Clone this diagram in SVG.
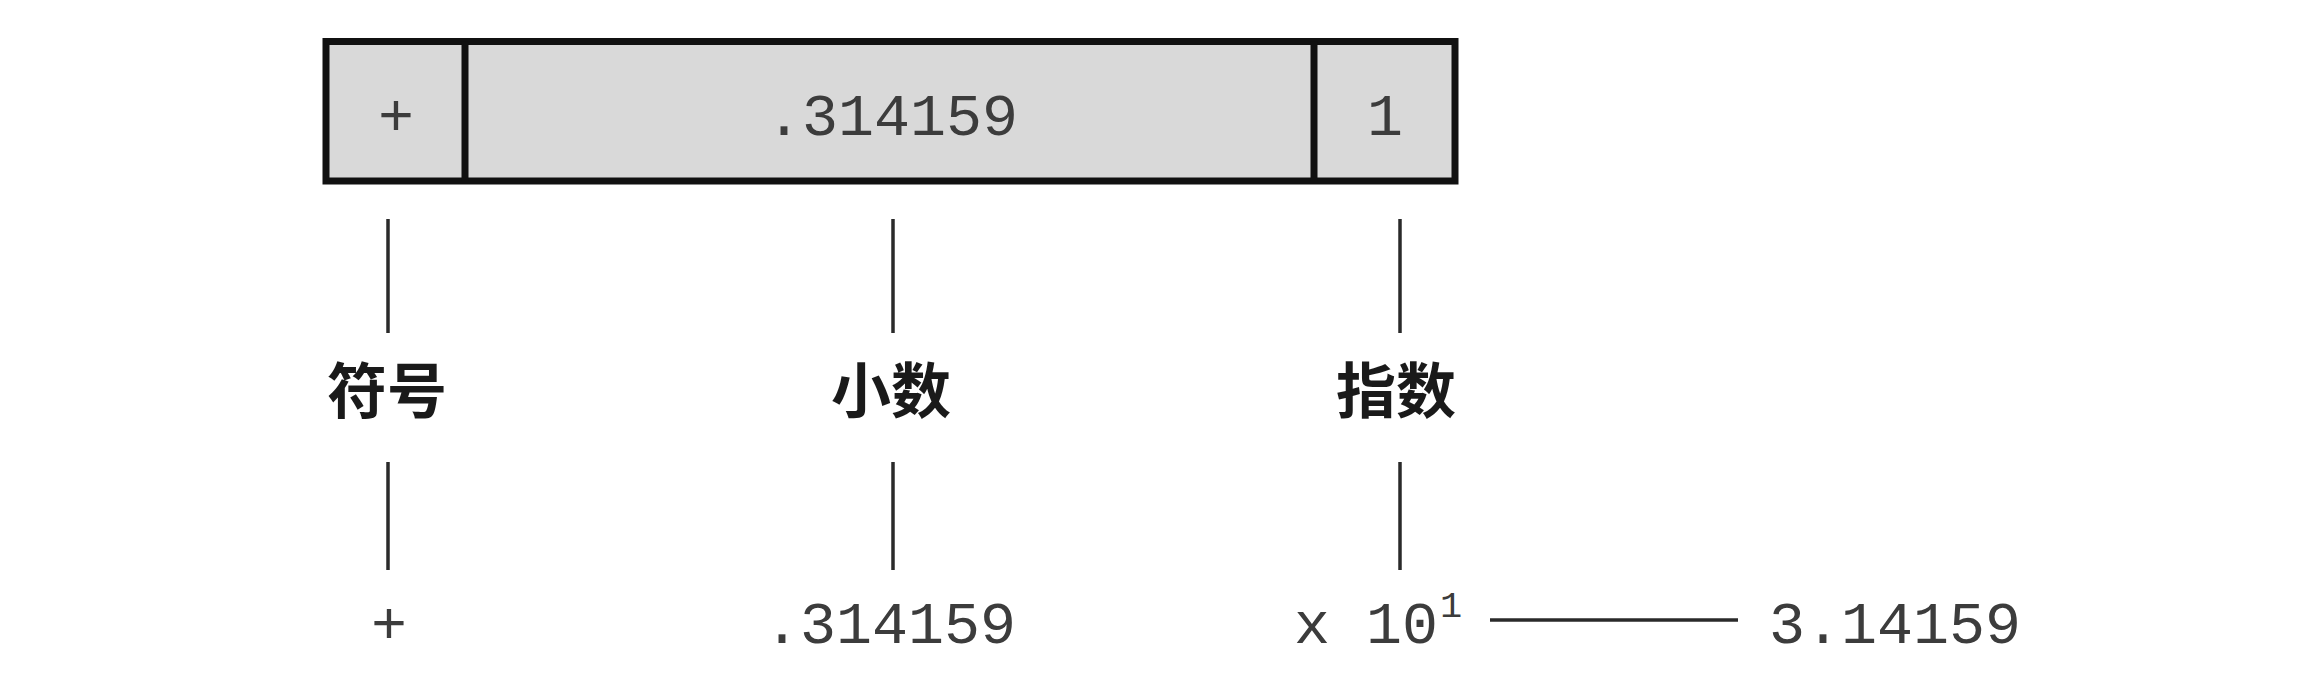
<svg xmlns="http://www.w3.org/2000/svg" width="2322" height="688" viewBox="0 0 2322 688">
  <style>
    .cell { fill: #d9d9d9; stroke: #111; stroke-width: 7; }
    .div { stroke: #111; stroke-width: 7; }
    .mono { font-family: "Liberation Mono", "DejaVu Sans Mono", monospace; font-size: 60px; fill: #3c3c3c; }
    .sup { font-family: "Liberation Mono", "DejaVu Sans Mono", monospace; font-size: 37px; fill: #3c3c3c; }
    .label { font-family: "Noto Sans CJK SC", "Noto Sans", sans-serif; font-size: 60px; font-weight: 700; fill: #1a1a1a; text-anchor: middle; }
    .conn { stroke: #2a2a2a; stroke-width: 3.5; fill: none; }
  </style>
  <rect width="2322" height="688" fill="#ffffff"/>
  <g id="register">
    <rect class="cell" x="326" y="41.5" width="1129" height="139.5"/>
    <line class="div" x1="465" y1="41.5" x2="465" y2="181"/>
    <line class="div" x1="1314" y1="41.5" x2="1314" y2="181"/>
  </g>
  <g id="sign-cell">
    <text class="mono" x="396" y="135" text-anchor="middle">+</text>
  </g>
  <g id="fraction-cell">
    <text class="mono" x="892" y="135" text-anchor="middle">.314159</text>
  </g>
  <g id="exponent-cell">
    <text class="mono" x="1385" y="135" text-anchor="middle">1</text>
  </g>
  <g id="label-sign">
    <text class="label" x="387" y="413">符号</text>
  </g>
  <g id="label-fraction">
    <text class="label" x="891" y="413">小数</text>
  </g>
  <g id="label-exponent">
    <text class="label" x="1396" y="413">指数</text>
  </g>
  <g id="value-sign">
    <text class="mono" x="389" y="643" text-anchor="middle">+</text>
  </g>
  <g id="value-fraction">
    <text class="mono" x="890" y="643" text-anchor="middle">.314159</text>
  </g>
  <g id="value-exponent">
    <text class="mono" x="1294" y="643">x 10</text>
    <text class="sup" x="1440" y="617">1</text>
  </g>
  <g id="value-result">
    <text class="mono" x="1769" y="643">3.14159</text>
  </g>
  <g id="connectors">
    <line class="conn" x1="388" y1="219" x2="388" y2="333"/>
    <line class="conn" x1="893" y1="219" x2="893" y2="333"/>
    <line class="conn" x1="1400" y1="219" x2="1400" y2="333"/>
    <line class="conn" x1="388" y1="462" x2="388" y2="570"/>
    <line class="conn" x1="893" y1="462" x2="893" y2="570"/>
    <line class="conn" x1="1400" y1="462" x2="1400" y2="570"/>
    <line class="conn" x1="1490" y1="620" x2="1738" y2="620"/>
  </g>
</svg>
